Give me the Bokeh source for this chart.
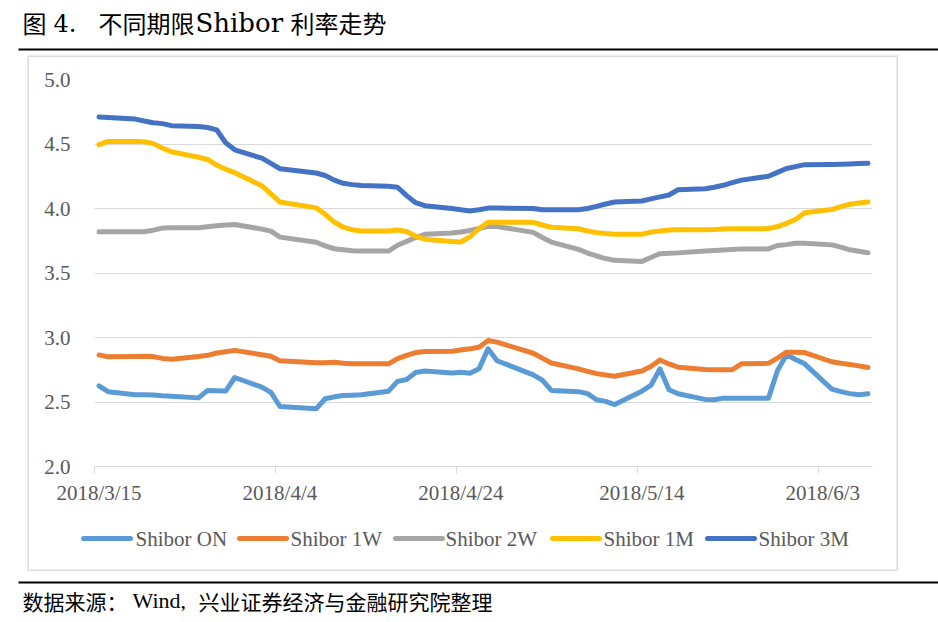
import datetime as dt
from bokeh.plotting import figure
from bokeh.layouts import column, row
from bokeh.models import (ColumnDataSource, FixedTicker, NumeralTickFormatter,
                          BoxAnnotation, Range1d)
from bokeh.core.properties import value
from bokeh.embed import file_html
from bokeh.resources import INLINE

# ---------------- data ----------------
dates = [
    "2018-03-15", "2018-03-16", "2018-03-19", "2018-03-20", "2018-03-21", "2018-03-22", "2018-03-23",
    "2018-03-26", "2018-03-27", "2018-03-28", "2018-03-29", "2018-03-30",
    "2018-04-02", "2018-04-03", "2018-04-04", "2018-04-08", "2018-04-09", "2018-04-10", "2018-04-11",
    "2018-04-12", "2018-04-13",
    "2018-04-16", "2018-04-17", "2018-04-18", "2018-04-19", "2018-04-20",
    "2018-04-23", "2018-04-24", "2018-04-25", "2018-04-26", "2018-04-27", "2018-04-28",
    "2018-05-02", "2018-05-03", "2018-05-04",
    "2018-05-07", "2018-05-08", "2018-05-09", "2018-05-10", "2018-05-11",
    "2018-05-14", "2018-05-15", "2018-05-16", "2018-05-17", "2018-05-18",
    "2018-05-21", "2018-05-22", "2018-05-23", "2018-05-24", "2018-05-25",
    "2018-05-28", "2018-05-29", "2018-05-30", "2018-05-31", "2018-06-01",
    "2018-06-04", "2018-06-05", "2018-06-06", "2018-06-07", "2018-06-08",
]

shibor_on = [2.625, 2.58, 2.556, 2.556, 2.555, 2.548, 2.545,
             2.532, 2.59, 2.588, 2.585, 2.69,
             2.615, 2.575, 2.465, 2.447, 2.525, 2.54, 2.55, 2.553, 2.556,
             2.584, 2.66, 2.674, 2.728, 2.74,
             2.725, 2.73, 2.723, 2.757, 2.912, 2.82,
             2.71, 2.67, 2.59,
             2.58, 2.565, 2.517, 2.505, 2.48,
             2.584, 2.628, 2.757, 2.595, 2.564,
             2.52, 2.517, 2.53, 2.53, 2.53,
             2.53, 2.744, 2.866, 2.83, 2.796,
             2.60, 2.58, 2.565, 2.556, 2.564]

shibor_1w = [2.865, 2.85, 2.853, 2.855, 2.852, 2.838, 2.832,
             2.853, 2.862, 2.88, 2.89, 2.90,
             2.866, 2.855, 2.82, 2.805, 2.805, 2.808, 2.80, 2.796, 2.796,
             2.796, 2.836, 2.862, 2.883, 2.892,
             2.893, 2.903, 2.912, 2.925, 2.977, 2.964,
             2.878, 2.84, 2.802,
             2.757, 2.738, 2.72, 2.71, 2.70,
             2.74, 2.775, 2.825, 2.795, 2.77,
             2.752, 2.75, 2.75, 2.75, 2.796,
             2.80, 2.84, 2.886, 2.886, 2.883,
             2.812, 2.80, 2.79, 2.78, 2.767]

shibor_2w = [3.82, 3.82, 3.82, 3.82, 3.832, 3.848, 3.85,
             3.85, 3.858, 3.867, 3.872, 3.876,
             3.84, 3.825, 3.778, 3.738, 3.71, 3.688, 3.68, 3.672, 3.67,
             3.67, 3.715, 3.745, 3.775, 3.80,
             3.81, 3.818, 3.83, 3.845, 3.862, 3.86,
             3.815, 3.775, 3.74,
             3.683, 3.655, 3.632, 3.612, 3.598,
             3.59, 3.62, 3.65, 3.653, 3.656,
             3.67, 3.674, 3.678, 3.683, 3.687,
             3.687, 3.713, 3.72, 3.73, 3.73,
             3.718, 3.70, 3.68, 3.668, 3.657]

shibor_1m = [4.495, 4.52, 4.52, 4.518, 4.503, 4.468, 4.44,
             4.397, 4.38, 4.337, 4.305, 4.277,
             4.177, 4.113, 4.05, 4.005, 3.955, 3.895, 3.855, 3.835, 3.825,
             3.825, 3.833, 3.822, 3.785, 3.762,
             3.745, 3.74, 3.78, 3.843, 3.894, 3.894,
             3.893, 3.872, 3.855,
             3.843, 3.826, 3.813, 3.806, 3.80,
             3.80, 3.817, 3.826, 3.833, 3.835,
             3.835, 3.837, 3.842, 3.843, 3.843,
             3.844, 3.86, 3.885, 3.915, 3.967,
             3.992, 4.015, 4.033, 4.042, 4.05]

shibor_3m = [4.71, 4.705, 4.693, 4.678, 4.665, 4.658, 4.642,
             4.636, 4.628, 4.61, 4.51, 4.455,
             4.39, 4.35, 4.308, 4.275, 4.256, 4.22, 4.195, 4.185, 4.178,
             4.172, 4.165, 4.10, 4.045, 4.022,
             4.0, 3.99, 3.98, 3.99, 4.003, 4.003,
             4.0, 3.99, 3.99,
             3.99, 4.0, 4.016, 4.035, 4.05,
             4.058, 4.075, 4.09, 4.105, 4.145,
             4.153, 4.165, 4.18, 4.20, 4.22,
             4.25, 4.28, 4.31, 4.325, 4.34,
             4.342, 4.343, 4.345, 4.348, 4.35]

series_names = ["Shibor ON", "Shibor 1W", "Shibor 2W", "Shibor 1M", "Shibor 3M"]
x_tick_labels = ["2018/3/15", "2018/4/4", "2018/4/24", "2018/5/14", "2018/6/3"]
y_ticks = [2.0, 2.5, 3.0, 3.5, 4.0, 4.5, 5.0]

title_parts = ["图", "4.", "不同期限", "Shibor", "利率走势"]
source_parts = ["数据来源：", "Wind,", "兴业证券经济与金融研究院整理"]

# ---------------- derived ----------------
start = dt.date.fromisoformat(dates[0])
xs = [(dt.date.fromisoformat(d) - start).days for d in dates]
major = [(dt.datetime.strptime(t, "%Y/%m/%d").date() - start).days for t in x_tick_labels]

src = ColumnDataSource(dict(x=xs, on=shibor_on, w1=shibor_1w, w2=shibor_2w, m1=shibor_1m, m3=shibor_3m))
cols = ["on", "w1", "w2", "m1", "m3"]
colors = ["#5B9BD5", "#ED7D31", "#A5A5A5", "#FFC000", "#4472C4"]

SERIF = "Liberation Serif"
CJK = "Noto Sans CJK SC"
LATIN_T = "DejaVu Serif"
BOX_C = "#D9D9D9"
LINE_W = 5

PAGE_W = 938


def deco_figure(w, h, fill="white"):
    f = figure(width=w, height=h, output_backend="svg", toolbar_location=None,
               x_range=Range1d(0, w), y_range=Range1d(h, 0),
               x_axis_location=None, y_axis_location=None,
               min_border=0, min_border_left=0, min_border_right=0,
               min_border_top=0, min_border_bottom=0, frame_align=False)
    f.outline_line_color = None
    f.grid.visible = False
    f.border_fill_color = fill
    f.background_fill_color = fill
    return f


# chart box geometry (page px)
BOX_L, BOX_T, BOX_R, BOX_B = 27, 55, 898, 571
BW = 2
IN_W = BOX_R - BOX_L - 2 * BW          # inner width of the box
MAIN_H = 517 - (BOX_T + BW)            # chart part of the box
LEG_H = BOX_B - 517                    # legend strip incl. bottom edge

# ---------------- header (title + rule + box top) ----------------
HEAD_H = BOX_T + BW
head = deco_figure(PAGE_W, HEAD_H)
title_x = [22, 53, 98, 195, 290]
title_font = [CJK, LATIN_T, CJK, LATIN_T, CJK]
title_size = ["24px", "24px", "24px", "26px", "24px"]
for t, x0, f, fs in zip(title_parts, title_x, title_font, title_size):
    head.text(x=[x0], y=[22], text=[t], text_font=value(f), text_font_size=value(fs),
              text_color="black", text_baseline="middle", text_align="left")
head.add_layout(BoxAnnotation(left=18, right=PAGE_W, top=48, bottom=50,
                              fill_color="black", fill_alpha=1, line_color=None))
head.add_layout(BoxAnnotation(left=BOX_L, right=BOX_R, top=BOX_T, bottom=BOX_T + BW,
                              fill_color=BOX_C, fill_alpha=1, line_color=None))

# ---------------- main chart ----------------
OX, OY = BOX_L + BW, BOX_T + BW           # page position of main canvas
FL, FT, FR, FB = 94 - OX, 79 - OY, 872 - OX, 466 - OY

p = figure(width=IN_W, height=MAIN_H, output_backend="svg", toolbar_location=None,
           x_range=Range1d(xs[0] - 0.5, xs[-1] + 0.5), y_range=Range1d(y_ticks[0], y_ticks[-1]),
           min_border_left=FL, min_border_right=IN_W - FR, min_border_top=FT,
           min_border_bottom=MAIN_H - FB, frame_align=False)
p.outline_line_color = None
p.background_fill_color = "white"
p.border_fill_color = "white"
p.xgrid.visible = False
p.ygrid.grid_line_color = BOX_C
p.ygrid.grid_line_width = 1

xa = p.xaxis[0]
xa.ticker = FixedTicker(ticks=major, minor_ticks=[m - 0.5 for m in major])
xa.major_label_overrides = {m: lab for m, lab in zip(major, x_tick_labels)}
xa.axis_line_color = BOX_C
xa.axis_line_width = 1
xa.major_tick_out = 0
xa.major_tick_in = 0
xa.minor_tick_out = 7
xa.minor_tick_in = 0
xa.minor_tick_line_color = BOX_C
xa.major_label_standoff = 7
xa.major_label_text_font = SERIF
xa.major_label_text_font_size = "21px"
xa.major_label_text_color = "#595959"

ya = p.yaxis[0]
ya.ticker = FixedTicker(ticks=y_ticks)
ya.formatter = NumeralTickFormatter(format="0.0")
ya.axis_line_color = None
ya.major_tick_out = 0
ya.major_tick_in = 0
ya.minor_tick_line_color = None
ya.major_label_standoff = 24
ya.major_label_text_font = SERIF
ya.major_label_text_font_size = "21px"
ya.major_label_text_color = "#595959"

for c, col in zip(cols, colors):
    p.line("x", c, source=src, line_color=col, line_width=LINE_W,
           line_join="round", line_cap="round")

# ---------------- legend strip (inside the chart box) ----------------
leg = deco_figure(IN_W, LEG_H)
LEG_Y = 538 - 517
swatch_x0 = [83, 239, 395, 552, 707]
label_x = [135, 290, 445, 603, 758]
leg.segment(x0=[v - OX for v in swatch_x0], x1=[v - OX + 47 for v in swatch_x0],
            y0=[LEG_Y] * 5, y1=[LEG_Y] * 5, line_color=colors, line_width=LINE_W,
            line_cap="round")
leg.text(x=[v - OX for v in label_x], y=[LEG_Y] * 5, text=series_names,
         text_font=value(SERIF), text_font_size=value("21px"), text_color="#595959",
         text_baseline="middle", text_align="left")
leg.add_layout(BoxAnnotation(left=0, right=IN_W, top=LEG_H - BW, bottom=LEG_H,
                             fill_color=BOX_C, fill_alpha=1, line_color=None))

lbar = deco_figure(BW, MAIN_H + LEG_H, fill=BOX_C)
rbar = deco_figure(BW, MAIN_H + LEG_H, fill=BOX_C)

box = row(lbar, column(p, leg, spacing=0), rbar, spacing=0, margin=(0, 0, 0, BOX_L))

# ---------------- footer (rule + source) ----------------
FOOT_H = 50
foot = deco_figure(PAGE_W, FOOT_H)
foot.add_layout(BoxAnnotation(left=18, right=PAGE_W, top=10, bottom=12,
                              fill_color="black", fill_alpha=1, line_color=None))
src_x = [22, 132, 198]
src_font = [CJK, SERIF, CJK]
src_size = ["21px", "22px", "21px"]
for t, x0, f, fs in zip(source_parts, src_x, src_font, src_size):
    foot.text(x=[x0], y=[29], text=[t], text_font=value(f), text_font_size=value(fs),
              text_color="black", text_baseline="middle", text_align="left")

layout = column(head, box, foot, spacing=0)
open("out.html", "w").write(file_html(layout, INLINE))
